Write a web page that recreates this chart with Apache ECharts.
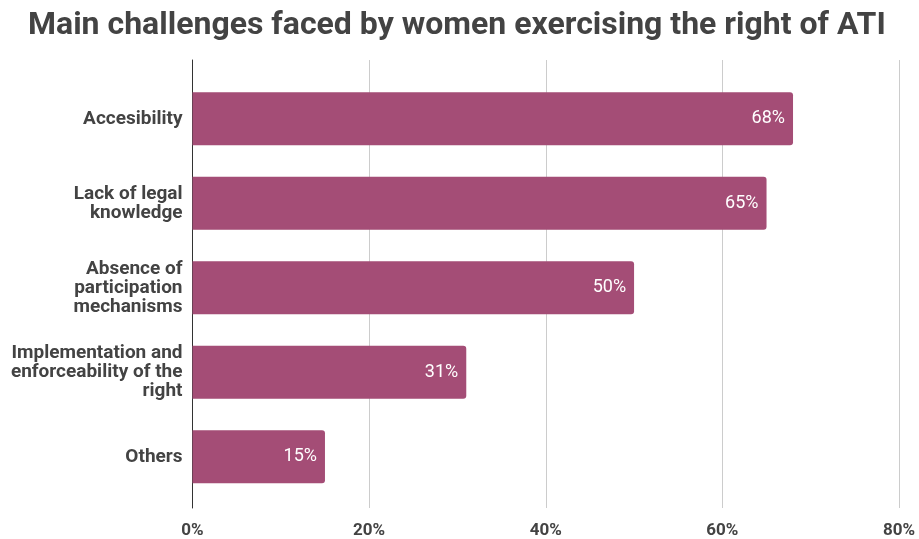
<!DOCTYPE html>
<html>
<head>
<meta charset="utf-8">
<script src="https://cdn.jsdelivr.net/npm/echarts@6/dist/echarts.min.js"></script>
<style>
  html, body { margin: 0; padding: 0; background: #fff; }
  #chart { width: 919px; height: 539px; }
</style>
</head>
<body>
<div id="chart"></div>
<script>
// Challenges reported by women using the right of access to information (ATI)
const categories = [
  'Accesibility',
  'Lack of legal\nknowledge',
  'Absence of\nparticipation\nmechanisms',
  'Implementation and\nenforceability of the\nright',
  'Others'
];
const shares = [68, 65, 50, 31, 15];
const axisTicks = [0, 20, 40, 60, 80];

const barColor = '#a44d76';
const textColor = '#434343';
const font = 'Roboto, "Noto Sans", sans-serif';

const chart = echarts.init(document.getElementById('chart'), null, { renderer: 'canvas' });

chart.setOption({
  backgroundColor: '#ffffff',
  animation: false,
  title: {
    text: 'Main challenges faced by women exercising the right of ATI',
    left: 23,
    top: 5,
    textStyle: { fontFamily: font, fontWeight: 'bold', fontSize: 32, color: textColor }
  },
  grid: [
    // frame: gridlines, baseline and percentage ticks
    { left: 192.5, right: 20, top: 60, bottom: 27 },
    // bars
    { left: 192.5, right: 20, top: 76.5, bottom: 40 }
  ],
  xAxis: [
    {
      gridIndex: 0, type: 'value',
      min: axisTicks[0], max: axisTicks[axisTicks.length - 1], interval: 20,
      axisLine: { show: false }, axisTick: { show: false },
      splitLine: { show: true, lineStyle: { color: '#cccccc', width: 1 } },
      axisLabel: {
        formatter: '{value}%', margin: 14,
        fontFamily: font, fontWeight: 'bold', fontSize: 17, color: textColor
      }
    },
    {
      gridIndex: 1, type: 'value',
      min: axisTicks[0], max: axisTicks[axisTicks.length - 1],
      show: false
    }
  ],
  yAxis: [
    {
      gridIndex: 0, type: 'value', min: 0, max: 1,
      axisLine: { show: true, lineStyle: { color: '#333333', width: 1 } },
      axisTick: { show: false }, axisLabel: { show: false }, splitLine: { show: false }
    },
    {
      gridIndex: 1, type: 'category', data: categories, inverse: true,
      axisLine: { show: false }, axisTick: { show: false },
      axisLabel: {
        margin: 10, align: 'right', lineHeight: 19,
        fontFamily: font, fontWeight: 'bold', fontSize: 19, color: textColor
      }
    }
  ],
  series: [
    {
      type: 'bar',
      xAxisIndex: 1, yAxisIndex: 1,
      data: shares,
      barWidth: 53,
      itemStyle: { color: barColor, borderRadius: [0, 3, 3, 0] },
      label: {
        show: true, position: 'insideRight', distance: 8,
        formatter: '{c}%',
        fontFamily: font, fontSize: 18, color: '#ffffff'
      }
    }
  ]
});
</script>
</body>
</html>
